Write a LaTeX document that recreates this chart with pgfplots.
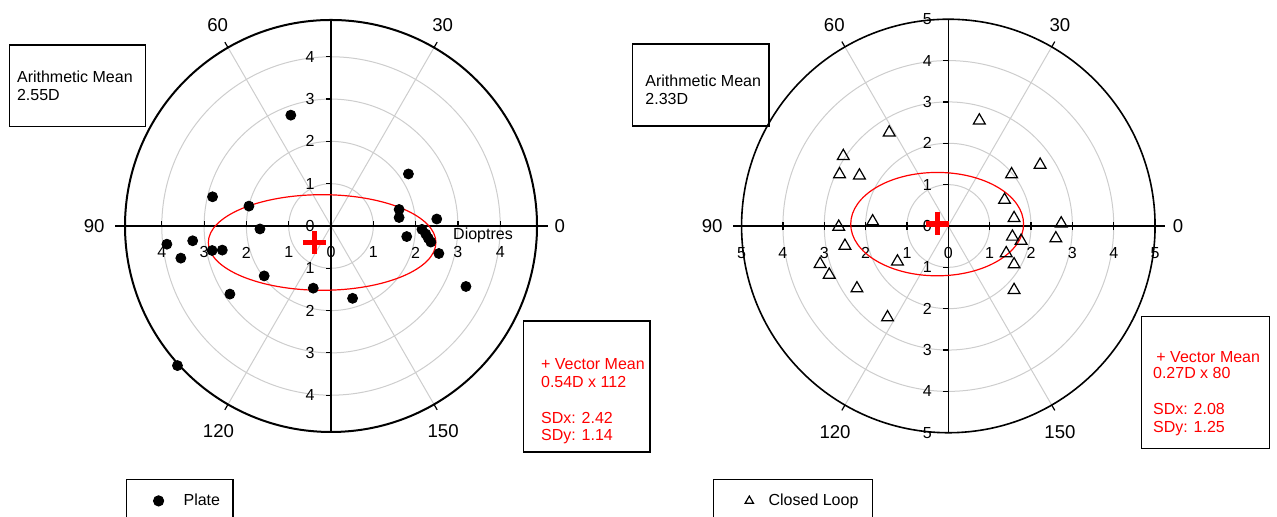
\documentclass[border=0pt]{standalone}
\usepackage{pgfplots}
\pgfplotsset{compat=1.18}
\usepackage{fontspec}
\setmainfont{Liberation Sans}
\definecolor{gridgray}{RGB}{205,205,205}
\newcommand{\lbl}{\fontsize{8}{9.6}\selectfont}
\newcommand{\tkl}{\fontsize{8}{9.6}\selectfont}
\newcommand{\angl}{\fontsize{9.3}{11}\selectfont}
\begin{document}
\begin{tikzpicture}
\useasboundingbox (0pt,0pt) rectangle (638.5pt,258.5pt);

% ---------------- LEFT: Plate ----------------
\begin{axis}[
  at={(49.175pt,29.175pt)}, anchor=south west,
  x=21.15pt, y=21.15pt,
  xmin=-5.5, xmax=5.5, ymin=-5.5, ymax=5.5,
  hide axis, clip=false,
  legend style={at={(0.0594,-0.04374)}, anchor=north west, draw=black, line width=0.6pt,
    inner xsep=4.5pt, inner ysep=5pt, font=\lbl, legend cell align=left},
  legend image code/.code={\path[draw=none] (-11.5pt,0pt) -- (10.5pt,0pt); \draw[#1] plot coordinates {(0pt,0pt)};},
]
\pgfplotsinvokeforeach{1,2,3,4}{\draw[gridgray, line width=0.5pt] (axis cs:0,0) circle[radius=#1];}
\draw[gridgray, line width=0.5pt] (axis cs:0,0) -- (axis cs:2.435,4.2175);
\draw[gridgray, line width=0.5pt] (axis cs:0,0) -- (axis cs:-2.435,4.2175);
\draw[gridgray, line width=0.5pt] (axis cs:0,0) -- (axis cs:-2.435,-4.2175);
\draw[gridgray, line width=0.5pt] (axis cs:0,0) -- (axis cs:2.435,-4.2175);
\draw[black, line width=1pt] (axis cs:0,0) circle[radius=4.87];
\draw[black, line width=0.6pt] (axis cs:2.435,4.2175) -- (axis cs:2.51,4.347);
\draw[black, line width=0.6pt] (axis cs:-2.435,4.2175) -- (axis cs:-2.51,4.347);
\draw[black, line width=0.6pt] (axis cs:-2.435,-4.2175) -- (axis cs:-2.51,-4.347);
\draw[black, line width=0.6pt] (axis cs:2.435,-4.2175) -- (axis cs:2.51,-4.347);
\draw[black, line width=0.6pt] (axis cs:-5.1,0) -- (axis cs:5.13,0);
\draw[black, line width=0.6pt] (axis cs:0,-4.87) -- (axis cs:0,4.87);
\pgfplotsinvokeforeach{1,2,3,4}{
  \draw[black, line width=0.6pt] (axis cs:0,#1) -- (axis cs:-0.12,#1);
  \draw[black, line width=0.6pt] (axis cs:0,-#1) -- (axis cs:-0.12,-#1);
  \draw[black, line width=0.6pt] (axis cs:#1,0) -- (axis cs:#1,0.12);
  \draw[black, line width=0.6pt] (axis cs:-#1,0) -- (axis cs:-#1,0.12);
  \node[font=\tkl, inner sep=0pt, xshift=-10.5pt] at (axis cs:0,#1) {#1};
  \node[font=\tkl, inner sep=0pt, xshift=-10.5pt] at (axis cs:0,-#1) {#1};
  \node[font=\tkl, inner sep=0pt, yshift=-13.25pt] at (axis cs:#1,0) {#1};
  \node[font=\tkl, inner sep=0pt, yshift=-13.25pt] at (axis cs:-#1,0) {#1};
}
\node[font=\tkl, inner sep=0pt, xshift=-10.5pt] at (axis cs:0,0) {0};
\node[font=\tkl, inner sep=0pt, yshift=-13.25pt] at (axis cs:0,0) {0};
\node[font=\angl, inner sep=0pt] at (axis cs:-2.68,4.75) {60};
\node[font=\angl, inner sep=0pt] at (axis cs:2.64,4.75) {30};
\node[font=\angl, inner sep=0pt] at (axis cs:-2.66,-4.86) {120};
\node[font=\angl, inner sep=0pt] at (axis cs:2.65,-4.86) {150};
\node[font=\angl, inner sep=0pt] at (axis cs:-5.60,0) {90};
\node[font=\angl, inner sep=0pt] at (axis cs:5.41,0) {0};
\node[font=\lbl, inner sep=0pt, anchor=west] at (axis cs:2.88,-0.21) {Dioptres};
\draw[red, line width=0.6pt] (axis cs:-0.21,-0.39) ellipse[x radius=2.69, y radius=1.13];
\addplot[only marks, mark=*, mark size=2.5pt, black] coordinates {
(-0.95,2.62) (1.83,1.23) (-2.80,0.69) (-1.94,0.47) (1.61,0.39) (1.61,0.20)
(2.50,0.165) (-1.68,-0.07) (2.15,-0.08) (-3.88,-0.43) (-3.27,-0.35) (-3.55,-0.76)
(-2.81,-0.58) (-2.57,-0.57) (-1.58,-1.18) (-2.39,-1.61) (-0.42,-1.47) (0.51,-1.71)
(-3.63,-3.30) (1.79,-0.25) (2.24,-0.19) (2.30,-0.29) (2.36,-0.38) (2.55,-0.65)
(3.19,-1.43)
};
\addlegendentry{Plate}
\addplot[forget plot, only marks, mark=+, mark size=5.75pt, red, mark options={line width=2.6pt}]
  coordinates {(-0.395,-0.395)};
\end{axis}

% ---------------- RIGHT: Closed Loop ----------------
\begin{axis}[
  at={(360.4375pt,31.7875pt)}, anchor=south west,
  x=20.675pt, y=20.675pt,
  xmin=-5.5, xmax=5.5, ymin=-5.5, ymax=5.5,
  hide axis, clip=false,
  legend style={at={(-0.01797,-0.05623)}, anchor=north west, draw=black, line width=0.6pt,
    inner xsep=5pt, inner ysep=5pt, font=\lbl, legend cell align=left},
  legend image code/.code={\path[draw=none] (-13pt,0pt) -- (7.65pt,0pt); \draw[#1] plot coordinates {(0pt,0pt)};},
  legend image post style={mark size=2.4pt},
]
\pgfplotsinvokeforeach{1,2,3,4}{\draw[gridgray, line width=0.5pt] (axis cs:0,0) circle[radius=#1];}
\draw[gridgray, line width=0.5pt] (axis cs:0,0) -- (axis cs:2.5,4.330);
\draw[gridgray, line width=0.5pt] (axis cs:0,0) -- (axis cs:-2.5,4.330);
\draw[gridgray, line width=0.5pt] (axis cs:0,0) -- (axis cs:-2.5,-4.330);
\draw[gridgray, line width=0.5pt] (axis cs:0,0) -- (axis cs:2.5,-4.330);
\draw[black, line width=0.8pt] (axis cs:0,0) circle[radius=5];
\draw[black, line width=0.6pt] (axis cs:2.5,4.330) -- (axis cs:2.575,4.460);
\draw[black, line width=0.6pt] (axis cs:-2.5,4.330) -- (axis cs:-2.575,4.460);
\draw[black, line width=0.6pt] (axis cs:-2.5,-4.330) -- (axis cs:-2.575,-4.460);
\draw[black, line width=0.6pt] (axis cs:2.5,-4.330) -- (axis cs:2.575,-4.460);
\draw[black, line width=0.6pt] (axis cs:-5.2,0) -- (axis cs:5.25,0);
\draw[black, line width=0.6pt] (axis cs:0,-5) -- (axis cs:0,5);
\pgfplotsinvokeforeach{1,2,3,4,5}{
  \draw[black, line width=0.6pt] (axis cs:0,#1) -- (axis cs:-0.12,#1);
  \draw[black, line width=0.6pt] (axis cs:0,-#1) -- (axis cs:-0.12,-#1);
  \draw[black, line width=0.6pt] (axis cs:#1,-0.1) -- (axis cs:#1,0.1);
  \draw[black, line width=0.6pt] (axis cs:-#1,-0.1) -- (axis cs:-#1,0.1);
  \node[font=\tkl, inner sep=0pt, xshift=-10.5pt] at (axis cs:0,#1) {#1};
  \node[font=\tkl, inner sep=0pt, xshift=-10.5pt] at (axis cs:0,-#1) {#1};
  \node[font=\tkl, inner sep=0pt, yshift=-13.35pt] at (axis cs:#1,0) {#1};
  \node[font=\tkl, inner sep=0pt, yshift=-13.35pt] at (axis cs:-#1,0) {#1};
}
\node[font=\tkl, inner sep=0pt, xshift=-10.5pt] at (axis cs:0,0) {0};
\node[font=\tkl, inner sep=0pt, yshift=-13.35pt] at (axis cs:0,0) {0};
\node[font=\angl, inner sep=0pt] at (axis cs:-2.757,4.861) {60};
\node[font=\angl, inner sep=0pt] at (axis cs:2.70,4.861) {30};
\node[font=\angl, inner sep=0pt] at (axis cs:-2.74,-4.975) {120};
\node[font=\angl, inner sep=0pt] at (axis cs:2.70,-4.975) {150};
\node[font=\angl, inner sep=0pt] at (axis cs:-5.71,0) {90};
\node[font=\angl, inner sep=0pt] at (axis cs:5.555,0) {0};
\draw[red, line width=0.6pt] (axis cs:-0.27,0.045) ellipse[x radius=2.09, y radius=1.25];
\addplot[only marks, mark=triangle, mark size=3.4pt, black, mark options={line width=0.6pt}] coordinates {
(0.75,2.55) (-1.43,2.26) (-2.54,1.69) (-2.63,1.25) (-2.15,1.22) (2.22,1.48)
(1.53,1.25) (1.36,0.63) (1.59,0.19) (2.73,0.06) (-1.83,0.11) (-2.65,-0.02)
(-2.50,-0.48) (1.55,-0.26) (1.76,-0.36) (2.60,-0.30) (-3.10,-0.92) (-2.88,-1.18)
(-1.23,-0.86) (1.40,-0.66) (1.59,-0.93) (-2.21,-1.51) (1.59,-1.55) (-1.47,-2.21)
};
\addlegendentry{Closed Loop}
\addplot[forget plot, only marks, mark=+, mark size=5.75pt, red, mark options={line width=2.6pt}]
  coordinates {(-0.26,0.05)};
\end{axis}

% ---------------- text boxes ----------------
\draw[line width=0.6pt] (4.65pt,236pt) rectangle (72.85pt,195.15pt);
\node[anchor=base west, inner sep=0pt, font=\lbl] at (8.35pt,217.35pt) {Arithmetic Mean};
\node[anchor=base west, inner sep=0pt, font=\lbl] at (8.35pt,208.15pt) {2.55D};

\draw[line width=0.6pt] (316.35pt,236.5pt) rectangle (384.5pt,195.5pt);
\node[anchor=base west, inner sep=0pt, font=\lbl] at (322.5pt,215.15pt) {Arithmetic Mean};
\node[anchor=base west, inner sep=0pt, font=\lbl] at (322.5pt,206pt) {2.33D};

\draw[line width=0.6pt] (261.65pt,98pt) rectangle (325pt,32.5pt);
\node[anchor=base west, inner sep=0pt, font=\lbl, text=red] at (270.35pt,73.85pt) {+ Vector Mean};
\node[anchor=base west, inner sep=0pt, font=\lbl, text=red] at (270.35pt,64.85pt) {0.54D x 112};
\node[anchor=base west, inner sep=0pt, font=\lbl, text=red] at (270.35pt,46.85pt) {SDx: 2.42};
\node[anchor=base west, inner sep=0pt, font=\lbl, text=red] at (270.35pt,38.15pt) {SDy: 1.14};

\draw[line width=0.6pt] (570.85pt,100.15pt) rectangle (634.65pt,34.35pt);
\node[anchor=base west, inner sep=0pt, font=\lbl, text=red] at (578pt,77.35pt) {+ Vector Mean};
\node[anchor=base west, inner sep=0pt, font=\lbl, text=red] at (576.35pt,69pt) {0.27D x 80};
\node[anchor=base west, inner sep=0pt, font=\lbl, text=red] at (576.35pt,51pt) {SDx: 2.08};
\node[anchor=base west, inner sep=0pt, font=\lbl, text=red] at (576.35pt,42.35pt) {SDy: 1.25};
\end{tikzpicture}
\end{document}
